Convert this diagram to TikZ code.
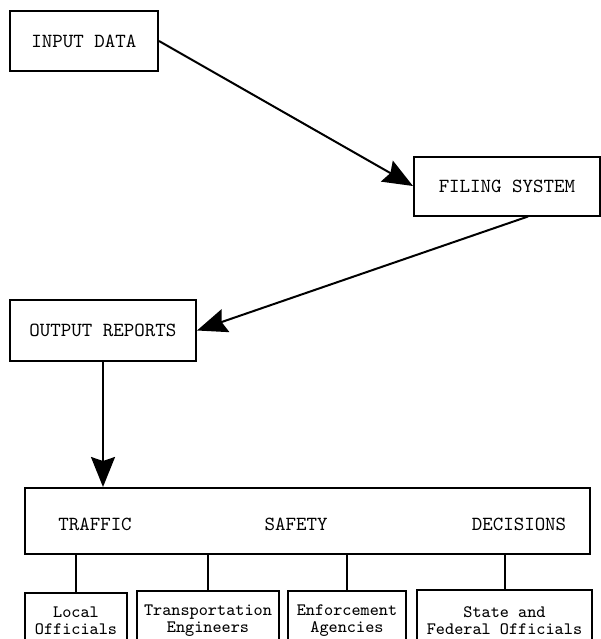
\documentclass[tikz,border=0pt]{standalone}
\usetikzlibrary{arrows.meta}
\begin{document}
\begin{tikzpicture}[x=0.5pt,y=-0.5pt,line width=1pt,
  box/.style={draw,line width=1pt,align=center,font=\ttfamily\fontsize{10}{12}\selectfont},
  group/.style={box,font=\ttfamily\fontsize{8.7}{8.5}\selectfont,minimum height=35pt},
  lbl/.style={font=\ttfamily\fontsize{10}{12}\selectfont},
  flow/.style={line width=1pt,-{Stealth[length=15pt,width=12pt,inset=2pt]}}]
  \useasboundingbox (0,0) rectangle (601,639);
  \clip (0,0) rectangle (601,639);

  \node[box,minimum width=74pt,minimum height=30pt] (input) at (84,41) {INPUT DATA};
  \node[box,minimum width=93pt,minimum height=29.5pt] (filing) at (507,186) {FILING SYSTEM};
  \node[box,minimum width=93pt,minimum height=30.5pt] (output) at (103,330.5) {OUTPUT REPORTS};

  \node[box,minimum width=282.5pt,minimum height=33pt] (decisions) at (307.5,521) {};
  \node[lbl] (traffic) at (95,524) {TRAFFIC};
  \node[lbl] (safety) at (296,524) {SAFETY};
  \node[lbl] (decide) at (519,524) {DECISIONS};

  % recipients, cut off at the bottom edge as in the source
  \node[group,minimum width=51pt] (local) at (76,628) {};
  \node[group,minimum width=71pt] (trans) at (208,626) {};
  \node[group,minimum width=59pt] (enf) at (347,626) {};
  \node[group,minimum width=87.5pt] (state) at (504.5,625) {};
  \node[group,draw=none,align=center] (localtx) at (76,621) {Local\\Officials};
  \node[group,draw=none,align=center] (transtx) at (208,621) {Transportation\\Engineers};
  \node[group,draw=none,align=center] (enftx) at (347,621) {Enforcement\\Agencies};
  \node[group,draw=none,align=center] (statetx) at (504.5,621) {State and\\Federal Officials};

  \draw[flow] (input.east) -- (filing.west);
  \draw[flow] ([xshift=10.5pt]filing.south) -- (output.east);
  \draw[flow] (output.south) -- (output.south |- decisions.north);
  \foreach \n in {local,trans,enf,state}
    \draw (decisions.south -| \n.north) -- (\n.north);
\end{tikzpicture}
\end{document}
